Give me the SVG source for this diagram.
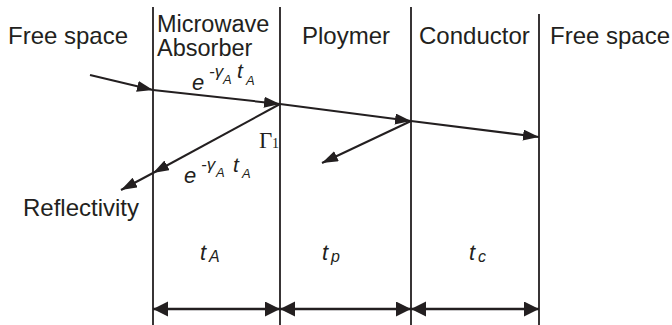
<svg xmlns="http://www.w3.org/2000/svg" width="672" height="325" viewBox="0 0 672 325">
<style>
.t{font-family:"Liberation Sans",Arial,sans-serif;font-size:24px;fill:#231f20}
.i{font-family:"Liberation Sans",Arial,sans-serif;font-style:italic;fill:#231f20}
.g{font-family:"Liberation Serif","Times New Roman",serif;fill:#231f20}
.b{stroke:#231f20;stroke-width:1.8;fill:none}
.r{stroke:#231f20;stroke-width:2;fill:none;marker-end:url(#ah)}
.d{stroke:#231f20;stroke-width:2.6;fill:none;marker-end:url(#dh);marker-start:url(#dh)}
</style>
<defs>
<marker id="ah" markerUnits="userSpaceOnUse" markerWidth="17" markerHeight="12" refX="16" refY="5.5" orient="auto" viewBox="0 0 17 12">
<path d="M0,0 L16,5.5 L0,11 z" fill="#231f20"/>
</marker>
<marker id="dh" markerUnits="userSpaceOnUse" markerWidth="16" markerHeight="16" refX="15" refY="7.5" orient="auto-start-reverse" viewBox="0 0 16 16">
<path d="M0,0 L15,7.5 L0,15 z" fill="#231f20"/>
</marker>
</defs>
<g id="boundaries">
<line class="b" x1="153" y1="7" x2="153" y2="325"/>
<line class="b" x1="280" y1="7" x2="280" y2="325"/>
<line class="b" x1="411" y1="7" x2="411" y2="325"/>
<line class="b" x1="539" y1="14" x2="539" y2="325"/>
</g>
<g id="labels">
<text class="t" x="8" y="44">Free space</text>
<text class="t" x="157" y="32" style="font-size:23.5px">Microwave</text>
<text class="t" x="157" y="56" style="font-size:23.5px">Absorber</text>
<text class="t" x="302" y="44">Ploymer</text>
<text class="t" x="419" y="44">Conductor</text>
<text class="t" x="550" y="44">Free space</text>
<text class="t" x="23" y="216">Reflectivity</text>
</g>
<g id="connectors">
<line class="r" x1="90" y1="75" x2="153" y2="90"/>
<line class="r" x1="153" y1="90" x2="280" y2="104"/>
<line class="r" x1="280" y1="104" x2="411" y2="121"/>
<line class="r" x1="411" y1="121" x2="539" y2="137"/>
<line class="r" x1="280" y1="104" x2="153" y2="173"/>
<line class="r" x1="153" y1="173" x2="121" y2="190"/>
<line class="r" x1="411" y1="121" x2="322" y2="163"/>
<line class="d" x1="153" y1="309" x2="280" y2="309"/>
<line class="d" x1="280" y1="309" x2="411" y2="309"/>
<line class="d" x1="411" y1="309" x2="539" y2="309"/>
</g>
<g id="math-upper">
<text class="i" x="192" y="90" font-size="22">e</text>
<text class="i" x="209" y="77" font-size="17">-γ</text>
<text class="i" x="223" y="84" font-size="13">A</text>
<text class="i" x="237" y="78" font-size="21">t</text>
<text class="i" x="246" y="85" font-size="13">A</text>
</g>
<g id="math-lower">
<text class="i" x="184" y="183" font-size="22">e</text>
<text class="i" x="201" y="170" font-size="17">-γ</text>
<text class="i" x="216" y="177" font-size="13">A</text>
<text class="i" x="233" y="172" font-size="21">t</text>
<text class="i" x="242" y="178" font-size="13">A</text>
</g>
<g id="gamma1">
<text class="g" x="259" y="148" font-size="23">Γ</text>
<text class="g" x="272" y="148" font-size="14">1</text>
</g>
<g id="thickness">
<text class="i" x="200" y="260" font-size="22">t</text>
<text class="i" x="209" y="262" font-size="16">A</text>
<text class="i" x="322" y="260" font-size="22">t</text>
<text class="i" x="331" y="262" font-size="16">p</text>
<text class="i" x="469" y="260" font-size="22">t</text>
<text class="i" x="478" y="262" font-size="16">c</text>
</g>
</svg>
